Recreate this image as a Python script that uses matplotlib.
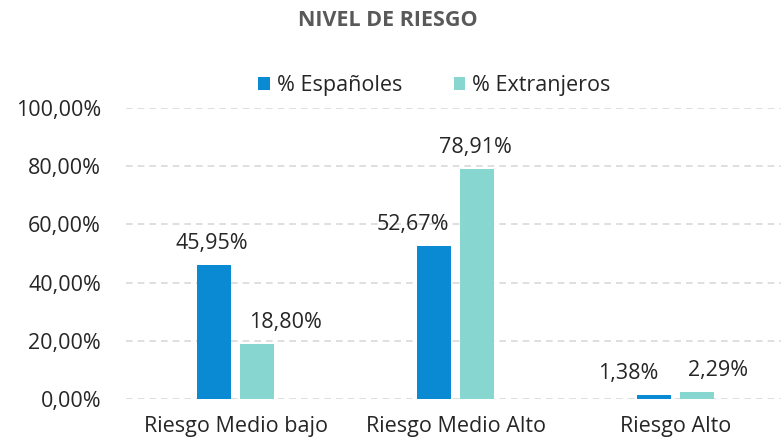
import matplotlib.pyplot as plt
import numpy as np

# datos
categorias = ["Riesgo Medio bajo", "Riesgo Medio Alto", "Riesgo Alto"]
espanoles = [45.95, 52.67, 1.38]
extranjeros = [18.80, 78.91, 2.29]
series = ["% Españoles", "% Extranjeros"]
yticks = [0, 20, 40, 60, 80, 100]

plt.rcParams['font.family'] = ['Open Sans', 'DejaVu Sans']
txt = '#262626'

fig = plt.figure(figsize=(7.81, 4.43), dpi=100)
ax = fig.add_axes([126/781, 1-399/443, 1-126/781, (399-108)/443])

x = np.arange(len(categorias))
w = 0.155
off = 0.098
b1 = ax.bar(x - off, espanoles, w, color='#0A8AD3', label=series[0], zorder=3)
b2 = ax.bar(x + off, extranjeros, w, color='#87D6D0', label=series[1], zorder=3)

def fmt(v):
    return ("%.2f%%" % v).replace(".", ",")

# desplazamiento horizontal de las etiquetas (px) para que no se pisen
dx1 = [-3, -21, -26]
dx2 = [28, -2, 21]
for bars, vals, dxs in ((b1, espanoles, dx1), (b2, extranjeros, dx2)):
    for r, v, d in zip(bars, vals, dxs):
        ax.annotate(fmt(v), (r.get_x() + r.get_width()/2, v), xytext=(d*0.72, 16*0.72),
                    textcoords='offset points', ha='center', va='baseline',
                    fontsize=15.5, color=txt)

ax.set_xlim(-0.5, 2.48)
ax.set_ylim(0, 100)
ax.set_yticks(yticks)
ax.set_yticklabels([fmt(t) for t in yticks], fontsize=15.5, color=txt)
ax.set_xticks(x)
ax.set_xticklabels(categorias, fontsize=15.5, color=txt)
ax.tick_params(length=0)
ax.tick_params(axis='y', pad=18)
ax.tick_params(axis='x', pad=12)
ax.yaxis.grid(True, linestyle=(0, (4, 3)), color='#D9D9D9', linewidth=1.2, zorder=0)
for s in ax.spines.values():
    s.set_visible(False)

fig.text(0.497, 1-20/443, "NIVEL DE RIESGO", ha='center', va='center', fontsize=15.5,
         fontweight='bold', color='#595959')
fig.legend(handles=[b1, b2], labels=series, loc='center', bbox_to_anchor=(0.556, 1-86/443),
           ncol=2, frameon=False, fontsize=15.5, handlelength=0.55, handleheight=0.55,
           handletextpad=0.3, columnspacing=2.4, labelcolor=txt)

fig.savefig("out.png", dpi=100)
